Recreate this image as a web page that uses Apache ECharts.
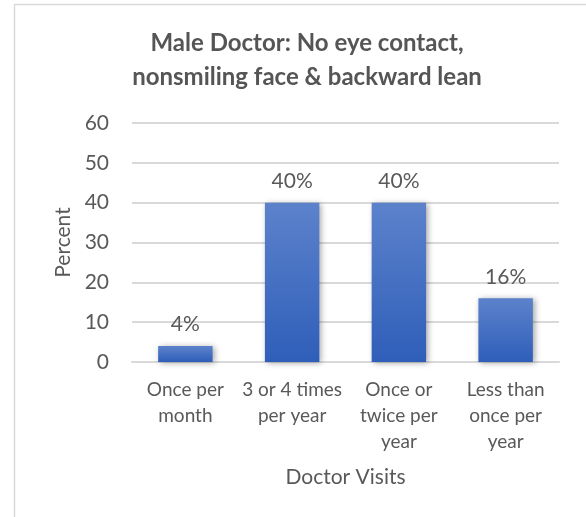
<!DOCTYPE html>
<html>
<head>
<meta charset="utf-8">
<script src="https://cdn.jsdelivr.net/npm/echarts@6/dist/echarts.min.js"></script>
<style>
  html, body { margin: 0; padding: 0; background: #ffffff; }
  #chart { width: 586px; height: 517px; }
</style>
</head>
<body>
<div id="chart"></div>
<script>
// Survey: how often respondents would visit the doctor
const titleLines = ['Male Doctor: No eye contact,', 'nonsmiling face & backward lean'];
const categories = ['Once per\nmonth', '3 or 4 times\nper year', 'Once or\ntwice per\nyear', 'Less than\nonce per\nyear'];
const percentValues = [4, 40, 40, 16];
const yTicks = { min: 0, max: 60, step: 10 };
const yAxisName = 'Percent';
const xAxisName = 'Doctor Visits';

const FONT = 'Lato, "Open Sans", sans-serif';
const TEXT = '#595959';

const chart = echarts.init(document.getElementById('chart'), null, { renderer: 'canvas' });

chart.setOption({
  backgroundColor: '#ffffff',
  animation: false,
  graphic: [{
    type: 'rect',
    shape: { x: 14.5, y: 4.5, width: 600, height: 600 },
    style: { fill: 'none', stroke: '#d9d9d9', lineWidth: 1.5 },
    silent: true
  }],
  title: {
    text: titleLines.join('\n'),
    left: 302,
    top: 21,
    textAlign: 'center',
    textStyle: {
      fontFamily: FONT,
      fontWeight: 'bold',
      fontSize: 24,
      lineHeight: 34,
      color: '#555555'
    }
  },
  grid: { left: 132, right: 27, top: 123, bottom: 155 },
  xAxis: {
    type: 'category',
    data: categories,
    name: xAxisName,
    nameLocation: 'middle',
    nameGap: 105,
    nameTextStyle: { fontFamily: FONT, fontSize: 21, color: TEXT },
    axisLine: { lineStyle: { color: '#d9d9d9', width: 2 } },
    axisTick: { show: false },
    axisLabel: {
      fontFamily: FONT,
      fontSize: 19,
      lineHeight: 26,
      color: TEXT,
      margin: 15,
      interval: 0
    }
  },
  yAxis: {
    type: 'value',
    min: yTicks.min,
    max: yTicks.max,
    interval: yTicks.step,
    name: yAxisName,
    nameLocation: 'middle',
    nameGap: 58,
    nameTextStyle: { fontFamily: FONT, fontSize: 21, color: TEXT },
    axisLine: { show: false },
    axisTick: { show: false },
    axisLabel: { fontFamily: FONT, fontSize: 21, color: TEXT, margin: 23 },
    splitLine: { lineStyle: { color: '#d9d9d9', width: 2 } }
  },
  series: [{
    type: 'bar',
    data: percentValues,
    barCategoryGap: '49%',
    itemStyle: {
      color: new echarts.graphic.LinearGradient(0, 0, 0, 1, [
        { offset: 0, color: '#5c82cb' },
        { offset: 1, color: '#2f5eb9' }
      ]),
      shadowColor: 'rgba(0, 0, 0, 0.35)',
      shadowBlur: 6,
      shadowOffsetX: 2,
      shadowOffsetY: 1
    },
    label: {
      show: true,
      position: 'top',
      distance: 11,
      fontFamily: FONT,
      fontSize: 21,
      color: TEXT,
      formatter: p => p.value + '%'
    }
  }]
});
</script>
</body>
</html>
